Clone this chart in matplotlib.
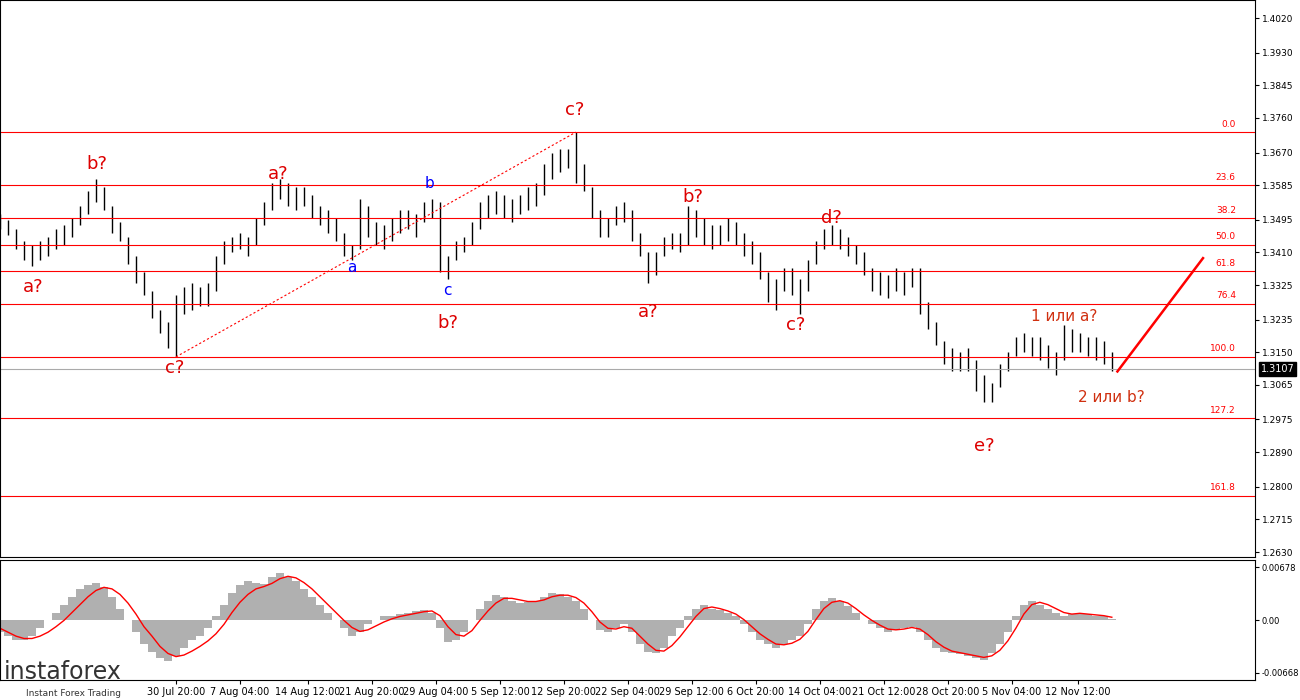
import matplotlib
matplotlib.use("Agg")
import matplotlib.pyplot as plt
import numpy as np

# price bars: lows/highs in pips above 1.3000
lows = [470,455,420,390,375,390,400,420,430,450,480,510,540,520,460,440,380,330,300,240,
        200,160,138,250,260,270,270,310,380,410,420,400,430,480,520,550,530,520,530,500,
        480,460,440,400,390,420,450,430,420,440,460,470,450,490,500,360,340,390,410,430,
        470,500,510,500,490,510,520,530,560,600,620,630,590,570,500,450,450,480,490,440,
        400,330,350,400,420,410,430,450,430,420,430,440,430,400,380,340,280,260,310,300,
        250,310,380,420,430,420,400,380,350,310,300,290,310,300,320,250,210,170,120,100,
        100,100,50,20,20,60,100,140,150,140,130,110,90,130,150,150,140,130,120,100]
highs = [510,495,470,440,430,440,450,470,480,500,530,570,600,580,530,490,450,400,360,310,
         260,230,300,320,330,320,330,400,440,450,460,450,500,540,590,600,590,580,580,560,
         530,520,500,460,430,550,530,490,480,500,520,520,510,540,550,540,400,440,450,490,
         540,560,570,560,550,560,580,590,640,670,680,680,723,640,580,520,500,530,540,520,
         460,410,410,450,460,460,530,520,500,480,480,500,490,460,440,410,360,340,370,370,
         340,390,440,470,480,470,450,430,410,370,360,350,370,360,370,370,280,230,180,160,
         150,160,130,90,70,120,150,190,200,190,190,170,150,220,210,200,190,190,180,150]
hist = [-150,-200,-250,-250,-200,-100,0,100,200,300,400,450,480,420,300,150,0,-150,-300,-400,
        -480,-520,-450,-350,-250,-200,-100,50,200,350,450,500,480,460,550,600,550,500,400,300,
        200,100,0,-100,-200,-150,-50,0,50,60,80,100,120,130,100,-100,-280,-250,-150,0,
        150,250,320,300,250,220,230,250,300,350,330,300,250,150,0,-120,-150,-100,-50,-150,
        -300,-400,-420,-350,-200,-100,50,150,200,150,130,100,50,-50,-150,-250,-300,-350,-300,-250,
        -200,-50,150,250,280,250,180,100,0,-50,-100,-150,-120,-100,-80,-150,-250,-350,-400,-420,
        -430,-450,-480,-500,-420,-300,-150,50,200,250,200,150,100,50,80,100,80,60,50,20]
signal = [-100,-150,-200,-230,-230,-200,-150,-80,0,100,200,300,380,420,400,330,220,80,-80,-200,
          -330,-420,-460,-440,-390,-330,-260,-170,-50,100,230,330,400,430,470,530,560,540,480,400,
          300,200,100,0,-90,-140,-120,-70,-20,20,50,70,90,110,120,60,-80,-180,-200,-130,
          0,120,220,280,280,260,240,240,260,300,320,320,290,220,110,-20,-100,-110,-80,-100,
          -200,-300,-380,-390,-320,-210,-80,50,150,170,150,120,80,10,-80,-170,-240,-300,-310,-290,
          -240,-140,10,150,230,250,220,150,70,0,-60,-110,-120,-110,-90,-110,-180,-270,-340,-390,
          -410,-430,-450,-470,-450,-380,-260,-100,80,200,230,200,150,100,80,90,80,70,60,40]

price_ticks = [1.2630,1.2715,1.2800,1.2890,1.2975,1.3065,1.3150,1.3235,1.3325,1.3410,
               1.3495,1.3585,1.3670,1.3760,1.3845,1.3930,1.4020]
time_labels = ["30 Jul 20:00","7 Aug 04:00","14 Aug 12:00","21 Aug 20:00","29 Aug 04:00",
               "5 Sep 12:00","12 Sep 20:00","22 Sep 04:00","29 Sep 12:00","6 Oct 20:00",
               "14 Oct 04:00","21 Oct 12:00","28 Oct 20:00","5 Nov 04:00","12 Nov 12:00"]
time_pos = [22,30,38.5,46.5,54.5,62.5,70.5,78.5,86.5,94.5,102.5,110.5,118.5,126.5,134.8]
fib_levels = ["0.0","23.6","38.2","50.0","61.8","76.4","100.0","127.2","161.8"]
fib_hi, fib_lo = 1.3723, 1.3138
current = 1.3107

lo = 1.3 + np.array(lows)/10000
hi = 1.3 + np.array(highs)/10000
idx = np.arange(len(lows))

fig = plt.figure(figsize=(13,7), dpi=100)
ax = fig.add_axes([0, 143/700, 1255/1300, 557/700])
ax2 = fig.add_axes([0, 20/700, 1255/1300, 120/700])
for a in (ax, ax2):
    a.set_xlim(0, 156.9)
    a.yaxis.tick_right()
    a.tick_params(axis='y', labelsize=6.5, length=3, pad=2)
    for s in a.spines.values():
        s.set_linewidth(0.8)

ax.vlines(idx, lo, hi, color='black', lw=1.0)
ax.set_ylim(1.2617, 1.4067)
ax.set_yticks(price_ticks)
ax.set_yticklabels([f"{t:.4f}" for t in price_ticks])
ax.set_xticks([])

rng = fib_hi - fib_lo
for lab in fib_levels:
    p = fib_hi - float(lab)/100*rng
    ax.axhline(p, color='red', lw=0.8)
    ax.text(154.5, p+0.0009, lab, color='red', fontsize=6.5, ha='right', va='bottom')
ax.axhline(current, color='#aaaaaa', lw=0.8)
ax.text(157.6, current, f"{current:.4f}", color='white', fontsize=7, va='center', ha='left',
        bbox=dict(facecolor='black', edgecolor='black', pad=1.5), clip_on=False)
ax.plot([22, 72], [fib_lo, fib_hi], color='red', lw=0.8, ls=(0,(2,2)))
ax.plot([139.7, 150.4], [1.3100, 1.3395], color='red', lw=1.8)

red_labels = [("a?",4.1,1.3320),("b?",12.1,1.3640),("c?",21.9,1.3110),("a?",34.8,1.3615),
              ("b?",56,1.3225),("c?",71.9,1.3780),("b?",86.6,1.3555),("a?",81,1.3255),
              ("d?",104,1.3500),("c?",99.5,1.3220),("e?",123.1,1.2905)]
for t,x,y in red_labels:
    ax.text(x, y, t, color='#dd0000', fontsize=13, ha='center', va='center')
ax.text(133, 1.3243, "1 или а?", color='#d03010', fontsize=11, ha='center', va='center')
ax.text(139, 1.3033, "2 или b?", color='#d03010', fontsize=11, ha='center', va='center')
for t,x,y in [("b",53.7,1.3590),("a",44,1.3370),("c",55.9,1.3310)]:
    ax.text(x, y, t, color='blue', fontsize=11, ha='center', va='center')

ax2.bar(idx, np.array(hist)/1e5, width=1.0, color='#b0b0b0')
ax2.plot(idx, np.array(signal)/1e5, color='red', lw=1.0)
ax2.set_ylim(-0.00757, 0.00767)
ax2.set_yticks([-0.00668, 0, 0.00678])
ax2.set_yticklabels(["-0.00668","0.00","0.00678"], fontsize=6)
ax2.set_xticks(time_pos)
ax2.set_xticklabels(time_labels, fontsize=7)
ax2.tick_params(axis='x', length=3, pad=2)
fig.text(0.003, 0.04, "instaforex", fontsize=17, color='#333333', va='center')
fig.text(0.02, 0.006, "Instant Forex Trading", fontsize=6.5, color='#333333')
fig.savefig("out.png", dpi=100)
